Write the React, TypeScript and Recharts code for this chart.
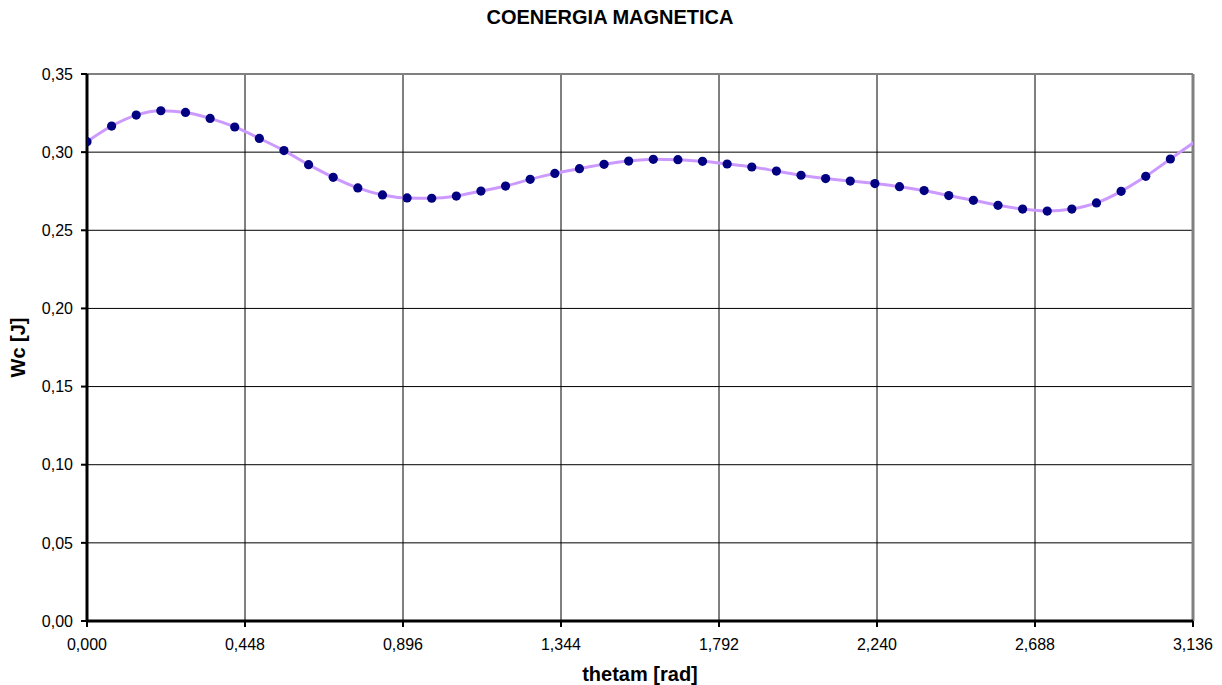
import React from 'react';
import { LineChart, Line, XAxis, YAxis, CartesianGrid, ReferenceLine } from 'recharts';

// thetam [rad], steps of 4 degrees
const thetam = [
  0, 0.0698, 0.1396, 0.2094, 0.2793, 0.3491, 0.4189, 0.4887, 0.5585, 0.6283,
  0.6981, 0.7679, 0.8378, 0.9076, 0.9774, 1.0472, 1.117, 1.1868, 1.2566, 1.3265,
  1.3963, 1.4661, 1.5359, 1.6057, 1.6755, 1.7453, 1.8151, 1.885, 1.9548, 2.0246,
  2.0944, 2.1642, 2.234, 2.3038, 2.3736, 2.4435, 2.5133, 2.5831, 2.6529, 2.7227,
  2.7925, 2.8623, 2.9322, 3.002, 3.0718, 3.1416,
];

// Wc [J]
const coenergia = [
  0.3067, 0.3167, 0.3237, 0.3265, 0.3254, 0.3216, 0.3161, 0.3088, 0.301, 0.292,
  0.2839, 0.2771, 0.2726, 0.2707, 0.2705, 0.2719, 0.2751, 0.2783, 0.2826, 0.2864,
  0.2894, 0.2922, 0.2943, 0.2954, 0.2952, 0.2941, 0.2924, 0.2905, 0.2879, 0.2852,
  0.2831, 0.2815, 0.2799, 0.2779, 0.2754, 0.2722, 0.2692, 0.266, 0.2636, 0.2623,
  0.2636, 0.2675, 0.2749, 0.2845, 0.2956, 0.3067,
];

const xTicks = [0, 0.448, 0.896, 1.344, 1.792, 2.24, 2.688, 3.136];
const yTicks = [0, 0.05, 0.1, 0.15, 0.2, 0.25, 0.3, 0.35];

const X_MAX = 3.136;
const FONT = '"Liberation Sans", Arial, sans-serif';

const data = thetam.map((t, i) => ({ x: t, y: coenergia[i] }));

const comma = (v: number, d: number) => v.toFixed(d).replace('.', ',');

const renderDot = (props: any) => {
  const { cx, cy, payload, index } = props;
  if (payload.x > X_MAX) return <g key={`d${index}`} />;
  return <circle key={`d${index}`} cx={cx} cy={cy} r={4.6} fill="#000080" stroke="none" />;
};

export default function App() {
  return (
    <div style={{ position: 'absolute', left: 0, top: 0, width: 1222, height: 685, background: '#fff', fontFamily: FONT }}>
      <div
        style={{
          position: 'absolute',
          left: 0,
          width: 1220,
          top: 6,
          textAlign: 'center',
          fontSize: 20,
          fontWeight: 'bold',
          color: '#000',
        }}
      >
        COENERGIA MAGNETICA
      </div>
      <LineChart
        width={1222}
        height={685}
        data={data}
        margin={{ top: 74, right: 29, bottom: 0, left: 0 }}
        style={{ fontFamily: FONT }}
      >
        <CartesianGrid stroke="#000" strokeWidth={1} horizontalValues={yTicks} verticalValues={xTicks} />
        <XAxis
          dataKey="x"
          type="number"
          domain={[0, X_MAX]}
          allowDataOverflow
          ticks={xTicks}
          tickFormatter={(v: number) => comma(v, 3)}
          height={64}
          axisLine={{ stroke: '#000', strokeWidth: 3 }}
          tickLine={{ stroke: '#000', strokeWidth: 2 }}
          tickSize={6}
          tickMargin={12}
          tick={{ fill: '#000', fontSize: 16 }}
          interval={0}
          label={{ value: 'thetam [rad]', position: 'insideBottom', offset: 4, style: { fill: '#000', fontSize: 20, fontWeight: 'bold' } }}
        />
        <YAxis
          type="number"
          domain={[0, 0.35]}
          ticks={yTicks}
          tickFormatter={(v: number) => comma(v, 2)}
          width={87}
          axisLine={{ stroke: '#000', strokeWidth: 3 }}
          tickLine={{ stroke: '#000', strokeWidth: 2 }}
          tickSize={6}
          tickMargin={8}
          tick={{ fill: '#000', fontSize: 16 }}
          interval={0}
          label={{ value: 'Wc [J]', angle: -90, position: 'insideLeft', offset: 18, style: { fill: '#000', fontSize: 20, fontWeight: 'bold', textAnchor: 'middle' } }}
        />
        <ReferenceLine y={0.35} stroke="#808080" strokeWidth={2} />
        <ReferenceLine x={X_MAX} stroke="#808080" strokeWidth={3} />
        <Line
          type="monotone"
          dataKey="y"
          stroke="#CC99FF"
          strokeWidth={3}
          dot={renderDot}
          activeDot={false}
          isAnimationActive={false}
        />
      </LineChart>
    </div>
  );
}
